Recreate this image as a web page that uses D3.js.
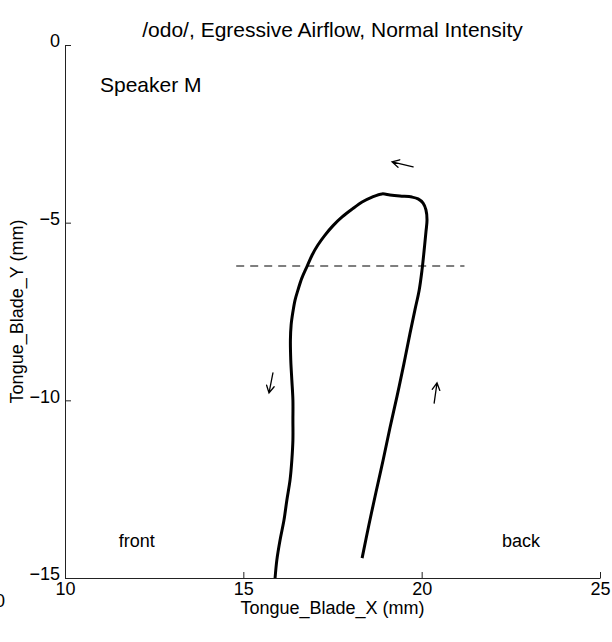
<!DOCTYPE html>
<html><head><meta charset="utf-8">
<script src="https://cdn.jsdelivr.net/npm/d3@7"></script>
<style>
body{margin:0;background:#fff;}
text{font-family:"Liberation Sans",Arial,Helvetica,sans-serif;fill:#000;}
</style></head>
<body><svg id="c" width="612" height="642"></svg>
<script>
const title = "/odo/, Egressive Airflow, Normal Intensity";
const xLabel = "Tongue_Blade_X (mm)";
const yLabel = "Tongue_Blade_Y (mm)";
const xTicks = [10, 15, 20, 25];
const yTicks = [0, -5, -10, -15];
const xDomain = [10, 25];
const yDomain = [-15, 0];
// trajectory: starts at lower right, goes up, over the top, and down the left side
const trajX = [18.33,18.52,18.72,18.92,19.11,19.31,19.50,19.67,19.81,19.93,20.01,20.07,20.12,20.15,20.12,20.04,19.90,19.73,19.39,19.11,18.89,
  18.61,18.33,18.05,17.77,17.51,17.29,17.09,16.93,16.79,16.64,16.53,16.45,16.39,16.34,16.32,
  16.33,16.36,16.39,16.39,16.39,16.36,16.31,16.22,16.14,16.03,15.94,15.89];
const trajY = [-14.44,-13.51,-12.58,-11.68,-10.78,-9.88,-8.98,-8.13,-7.46,-6.90,-6.33,-5.77,-5.26,-4.92,-4.64,-4.45,-4.33,-4.28,-4.25,-4.22,-4.19,
  -4.28,-4.42,-4.62,-4.84,-5.09,-5.35,-5.63,-5.91,-6.22,-6.56,-6.90,-7.18,-7.51,-7.88,-8.30,
  -8.87,-9.43,-9.99,-10.55,-11.12,-11.68,-12.24,-12.81,-13.37,-13.93,-14.49,-15.0];
const refLineX = [14.8, 21.2];
const refLineY = -6.22;
// direction arrows: tail -> head
const arrowTailX = [19.76, 15.83, 20.35];
const arrowTailY = [-3.43, -9.23, -10.08];
const arrowHeadX = [19.17, 15.72, 20.43];
const arrowHeadY = [-3.29, -9.79, -9.51];
const notes = [
  {t:"Speaker M", x:10.98, y:-1.1, fs:21},
  {t:"front", x:11.51, y:-13.96, fs:18},
  {t:"back", x:22.25, y:-13.96, fs:18}
];

const svg = d3.select("#c");
const m = {l:65, r:600, t:45, b:578};
const x = d3.scaleLinear().domain(xDomain).range([m.l, m.r]);
const y = d3.scaleLinear().domain(yDomain).range([m.b, m.t]);
const fs = 18;

// axes (MATLAB style inward ticks, no box)
const gx = svg.append("g").attr("transform",`translate(0,${m.b})`)
  .call(d3.axisBottom(x).tickValues(xTicks).tickSizeInner(-6).tickSizeOuter(0).tickPadding(8).tickFormat(d3.format("d")));
const gy = svg.append("g").attr("transform",`translate(${m.l},0)`)
  .call(d3.axisLeft(y).tickValues(yTicks).tickSizeInner(-6).tickSizeOuter(0).tickPadding(5)
    .tickFormat(d => d < 0 ? "\u2212" + Math.abs(d) : d));
[gx, gy].forEach(g => {
  g.selectAll("path.domain").attr("stroke","#222").attr("stroke-width",1);
  g.selectAll(".tick line").attr("stroke","#222").attr("stroke-width",1);
  g.selectAll(".tick text").attr("font-size",fs).attr("font-family",'"Liberation Sans",Arial,sans-serif').attr("fill","#000");
});
gx.selectAll(".tick text").attr("dy","0.5em");
gy.selectAll(".tick text").attr("dy","0.1em");

// dashed reference line
svg.append("line")
  .attr("x1", x(refLineX[0])).attr("x2", x(refLineX[1]))
  .attr("y1", y(refLineY)).attr("y2", y(refLineY))
  .attr("stroke","#555").attr("stroke-width",1.3).attr("stroke-dasharray","8,6");

// trajectory
const pts = trajX.map((v,i)=>[v, trajY[i]]);
svg.append("path").datum(pts)
  .attr("d", d3.line().x(d=>x(d[0])).y(d=>y(d[1])).curve(d3.curveCatmullRom.alpha(0.5)))
  .attr("fill","none").attr("stroke","#000").attr("stroke-width",3).attr("stroke-linejoin","round");

// direction arrows drawn as open-headed arrows
arrowTailX.forEach((tx,i)=>{
  const x0=x(tx), y0=y(arrowTailY[i]), x1=x(arrowHeadX[i]), y1=y(arrowHeadY[i]);
  const a=Math.atan2(y1-y0,x1-x0), L=8, w=0.5;
  const p1=[x1-L*Math.cos(a-w), y1-L*Math.sin(a-w)];
  const p2=[x1-L*Math.cos(a+w), y1-L*Math.sin(a+w)];
  svg.append("path")
    .attr("d",`M${x0},${y0}L${x1},${y1}M${p1[0]},${p1[1]}L${x1},${y1}L${p2[0]},${p2[1]}`)
    .attr("fill","none").attr("stroke","#000").attr("stroke-width",1.3).attr("stroke-linecap","round");
});

// annotations
svg.selectAll("text.note").data(notes).join("text").attr("class","note")
  .attr("x", d=>x(d.x)).attr("y", d=>y(d.y)).attr("dominant-baseline","central")
  .attr("font-size",d=>d.fs).text(d=>d.t);

// title and labels
svg.append("text").attr("x",(m.l+m.r)/2).attr("y",37).attr("text-anchor","middle").attr("font-size",21).text(title);
svg.append("text").attr("x",(m.l+m.r)/2).attr("y",614).attr("text-anchor","middle").attr("font-size",fs).text(xLabel);
svg.append("text").attr("transform",`translate(23,${(m.t+m.b)/2}) rotate(-90)`).attr("text-anchor","middle").attr("font-size",fs).text(yLabel);
// stray clipped label at lower-left edge
svg.append("text").attr("x",-5).attr("y",607).attr("font-size",fs).text("0");
</script></body></html>
